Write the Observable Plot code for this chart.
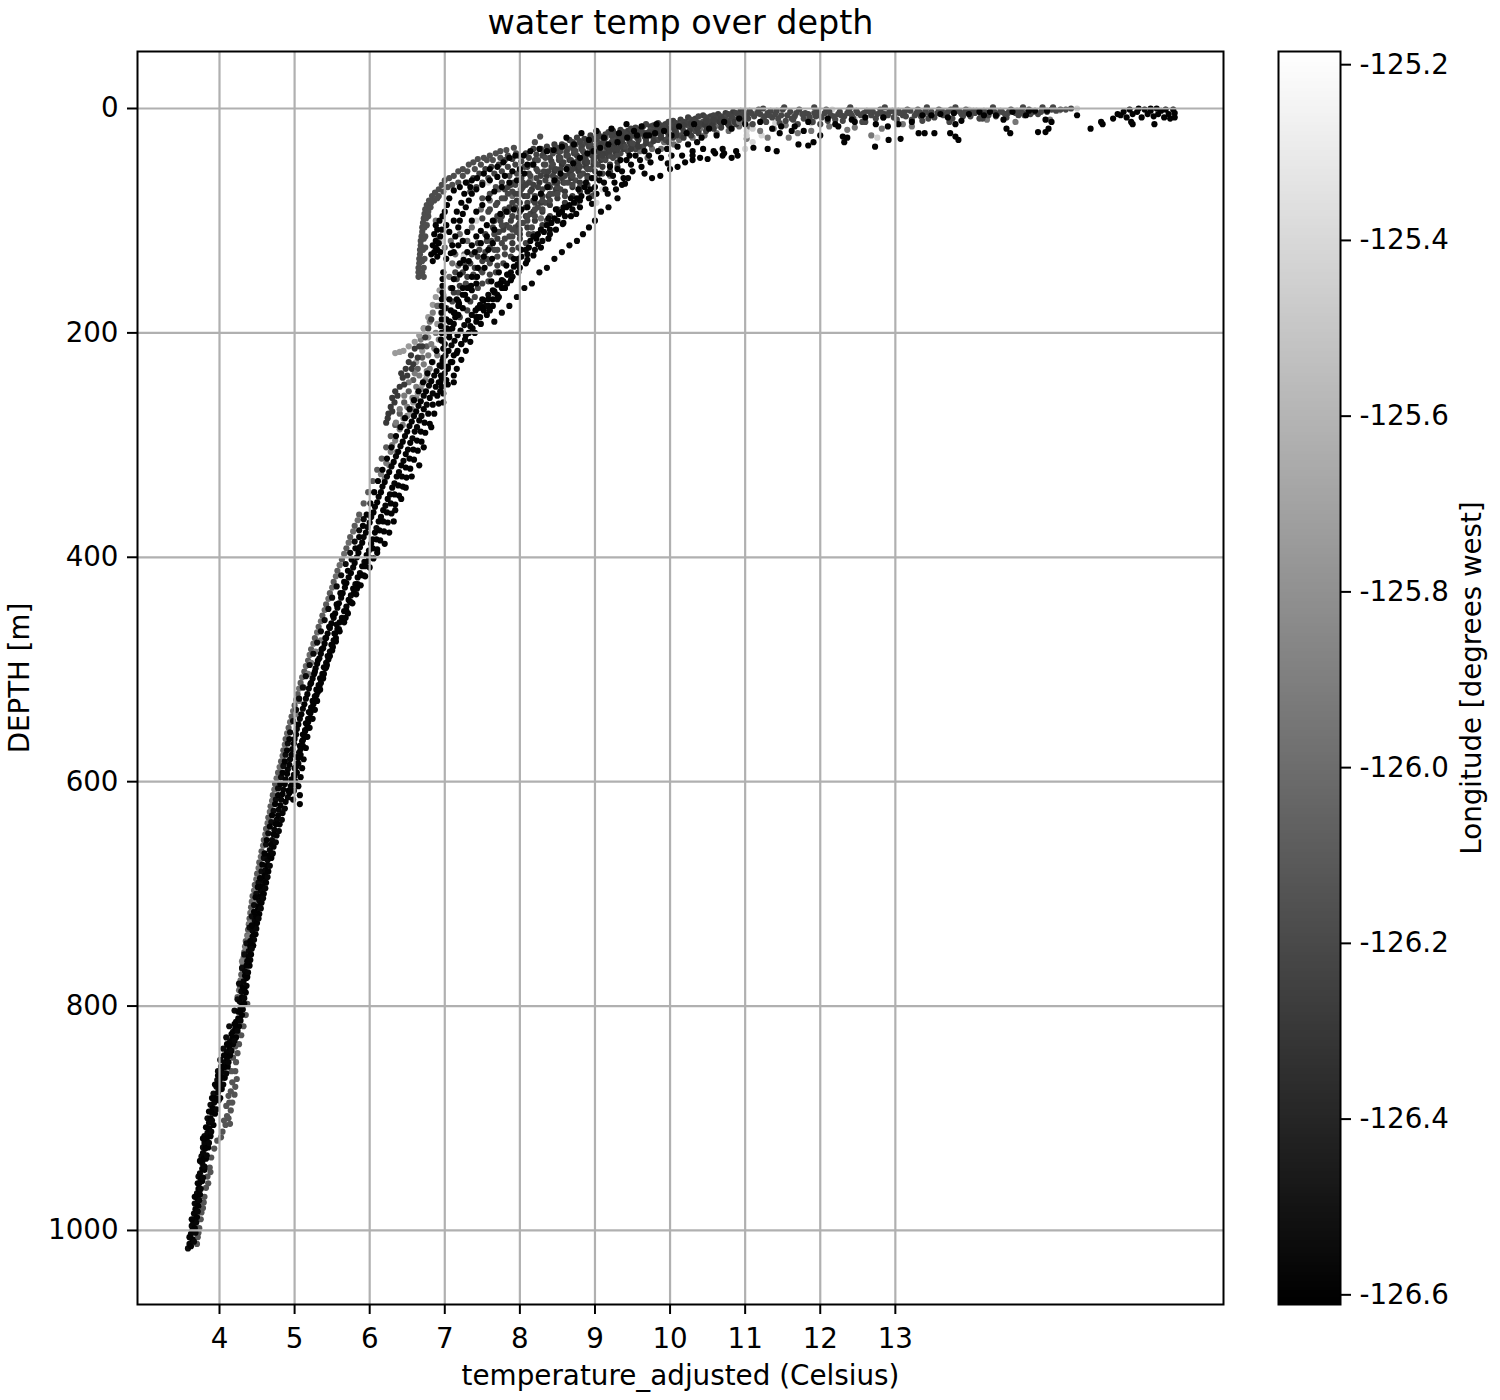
<!DOCTYPE html>
<html><head><meta charset="utf-8">
<script src="https://cdn.jsdelivr.net/npm/d3@7"></script>
<script src="https://cdn.jsdelivr.net/npm/@observablehq/plot@0.6"></script>
<style>body{margin:0;background:#fff}#wrap{position:relative;width:1500px;height:1400px}#wrap svg{position:absolute;left:0;top:0;background:transparent;overflow:visible}</style>
</head><body><div id="wrap"></div>
<script>
const titleText=["water temp over depth"];
const xLabel=["temperature_adjusted (Celsius)"];
const yLabel=["DEPTH [m]"];
const barLabel=["Longitude [degrees west]"];
const xTicks=[4,5,6,7,8,9,10,11,12,13];
const yTicks=[0,200,400,600,800,1000];
const barTicks=[-126.6,-126.4,-126.2,-126.0,-125.8,-125.6,-125.4,-125.2];
const lonRange=[-126.611,-125.185];

// each list: temperature, depth, temperature, depth ...
const deepGrayRight=[3.70,1012,3.71,1006,3.73,998,3.75,990,3.78,980,3.80,970,3.82,962,3.84,952,3.87,944,3.89,935,3.93,927,3.97,920,4.04,912,4.08,906,4.12,900,4.15,893,4.17,886,4.20,879,4.21,872,4.23,865,4.21,858,4.22,850,4.24,842,4.26,834,4.29,826,4.32,818,4.35,808,4.37,798,4.14,905,4.10,898,4.13,886,4.15,876,4.17,868,3.72,1002,3.76,984,3.79,975,3.85,958,3.88,948,4.02,917,4.06,902,4.09,889,4.12,880,4.16,858,4.18,846,4.21,836,4.24,824,4.27,812];
const deepGrayLeft=[4.24,792,4.27,782,4.29,772,4.31,762,4.33,752,4.35,742,4.38,732,4.40,722,4.42,712,4.44,702,4.47,692,4.50,682,4.53,672,4.56,662,4.59,652,4.62,642,4.65,632,4.68,622,4.71,612,4.74,602,4.78,592,4.82,582,4.85,572,4.88,562,4.92,552,4.96,542,5.00,532,5.04,522,5.08,512,5.13,502,5.18,492,5.22,482,5.27,472,5.32,462,5.37,452,5.42,442,5.47,432,5.52,422,5.57,412,5.63,402,5.69,392,5.74,382,5.80,372,5.86,362,5.92,352,5.98,342,6.04,332,6.10,322,6.16,312,6.22,302,6.28,292,6.34,282,6.40,272,6.46,262,6.52,252,6.58,242,6.64,232,6.70,222,6.76,212];
const deepGrayLeftB=[4.26,786,4.28,777,4.30,767,4.32,757,4.34,747,4.37,737,4.39,727,4.41,717,4.43,707,4.46,697,4.49,687,4.52,677,4.55,667,4.58,657,4.61,647,4.64,637,4.67,627,4.70,617,4.73,607,4.76,597,4.80,587,4.84,577,4.87,567,4.90,557,4.94,547,4.98,537,5.02,527,5.06,517,5.10,507,5.15,497,5.20,487,5.25,477,5.30,467,5.35,457,5.40,447,5.45,437,5.50,427,5.55,417,5.60,407,5.66,397,5.72,387,5.78,377,5.84,367];
const midGray=[4.30,760,4.35,748,4.38,738,4.41,726,4.45,716,4.48,706,4.50,696,4.54,686,5.02,540,5.06,528,5.12,516,5.18,504,5.22,494,5.28,484,5.35,474,6.15,326,6.22,316,6.28,306,6.34,296,6.40,286,6.45,276,6.50,266,6.57,258,6.62,248,6.66,238,6.72,228,6.78,220,6.82,210,6.88,200,6.72,196,6.80,190,6.84,182,6.92,176,6.60,236,6.52,244,6.46,256,6.40,268,6.35,280,6.68,206,6.76,234,6.84,226,6.86,214,6.92,206,6.44,282,6.50,274,6.56,268,6.62,258,6.68,250,6.74,242,6.80,232,6.90,220,6.30,300,6.36,306,6.26,318,6.20,330];
const lightChain=[6.34,218,6.40,217,6.45,216,6.52,212,6.60,208,6.66,202,6.72,196,6.78,186,6.84,175,6.88,168,6.93,162,6.62,226,6.70,216,6.78,204,6.90,192,6.95,182,6.58,262,6.64,254,6.70,246,6.76,238,6.54,272];
const leftDarkChain=[6.22,280,6.25,272,6.28,266,6.33,262,6.37,256,6.40,248,6.44,240,6.48,232,6.52,226,6.55,220,6.60,214,6.24,276,6.30,258,6.46,246,6.50,238,6.58,228,6.64,222,6.70,212,6.74,204,6.78,196,6.82,188,6.30,270,6.34,252,6.42,236,6.56,232,6.66,212];
const deepBlackA=[3.60,1012,3.62,1003,3.65,994,3.66,985,3.69,976,3.70,967,3.73,958,3.74,949,3.77,940,3.78,931,3.80,922,3.84,913,3.86,904,3.90,895,3.93,886,3.98,877,4.00,868,4.03,859,4.07,850,4.10,841,4.14,832,4.18,823,4.22,814,4.25,805,4.27,796,4.29,787,4.32,778,4.34,769,4.37,760,4.39,751,4.42,742,4.44,733,4.47,724,4.50,715,4.53,706,4.55,697,4.58,688,4.61,679,4.64,670,4.67,661,4.70,652,4.73,643,4.76,634,4.79,625,4.82,616,4.85,607,4.88,598,4.91,589,4.94,580,4.97,571,5.00,562,5.03,553,5.07,544,5.11,535,5.15,526,5.19,517,5.24,508,5.28,499,5.33,490,5.38,481,5.42,472,5.47,463,5.52,454,5.57,445,5.62,436,5.67,427,5.72,418,5.78,409,5.83,400,5.87,391,5.92,382,5.97,373,6.02,364,6.07,355,6.12,346,6.17,337,6.23,328,6.29,319,6.35,310,6.41,301,6.47,292,6.53,283,6.59,274,6.65,265,6.72,256,6.79,247,6.86,238,6.93,229,7.01,220,7.09,211,7.17,202,7.26,193,7.36,184,7.47,175,7.58,166,7.70,157,7.83,148,7.97,139,8.10,130,8.24,121,8.40,112,8.57,103,8.75,94,8.96,85,9.17,76,9.40,67,9.66,58,9.97,49,10.3,42,10.7,36];
const deepBlackB=[3.64,1008,3.67,998,3.70,988,3.72,978,3.74,968,3.77,956,3.80,946,3.82,936,3.85,926,3.88,916,3.92,906,3.94,896,3.99,884,4.03,874,4.07,864,4.11,854,4.14,844,4.18,834,4.22,828,4.26,818,4.30,808,4.33,798,4.35,788,4.37,774,4.40,764,4.42,754,4.45,746,4.48,736,4.50,726,4.53,718,4.56,708,4.59,700,4.62,690,4.65,680,4.69,668,4.72,658,4.76,648,4.80,638,4.84,628,4.88,618,4.92,608,4.96,598,5.00,588,5.03,578,5.07,568,5.11,558,5.15,548,5.19,538,5.24,528,5.29,518,5.34,508,5.39,498,5.44,488,5.49,478,5.54,468,5.60,458,5.66,448,5.72,438,5.78,428,5.84,418,5.90,408,5.96,398,6.02,388,6.07,378,6.12,368,6.18,358,6.24,348,6.30,338,6.36,328,6.42,318,6.48,308,6.54,298,6.60,288,6.66,278,6.72,268,6.80,258,6.88,248,6.96,240,7.04,230,7.12,220,7.22,210,7.32,200,7.42,190,7.52,180,7.64,170,7.76,160,7.90,150];
const deepBlackC=[3.58,1016,3.61,1006,3.63,996,3.67,976,3.72,952,3.76,934,3.78,926,3.80,916,3.84,900,3.88,888,3.92,878,3.96,872,3.97,866,3.98,858,4.01,848,4.05,838,4.09,828,4.13,818,4.20,804,4.24,794,4.26,780,4.30,766,4.33,754,4.36,744,4.40,730,4.43,720,4.46,710,4.49,700,4.52,690,4.56,680,4.59,668,4.62,656,4.65,646,4.69,636,4.72,626,4.75,616,4.78,606,4.82,596,4.85,586,4.88,576,4.91,566,4.94,556,4.98,546,5.02,536,5.06,526,5.11,516,5.15,506,5.20,496,5.25,486,5.30,476,5.35,466,5.40,456,5.45,446,5.50,436,5.56,426,5.62,416,5.68,406,5.74,396,5.80,386,5.86,376,5.92,366];
const deepBlackD=[3.62,1014,3.64,1000,3.66,990,3.68,981,3.71,972,3.72,963,3.75,954,3.77,945,3.79,936,3.81,927,3.83,918,3.86,909,3.88,900,3.91,891,3.95,882,4.00,873,4.03,864,4.06,855,4.10,846,4.13,837,4.17,829,4.21,820,4.25,811,4.28,802,4.30,792,4.31,783,4.34,773,4.36,764,4.39,756,4.41,747,4.44,738,4.46,729,4.49,720,4.52,711,4.55,702,4.57,693,4.60,684,4.63,675,4.66,666,4.69,656,4.72,647,4.75,638,4.78,630,4.81,621,4.84,611,4.87,602,4.90,593,4.93,585,4.96,576,4.99,566,5.02,558,5.05,549,5.09,540,5.13,531,5.17,522,5.21,513,5.26,504,5.30,495,5.35,486,5.40,477,5.44,468,5.49,459,5.54,450,5.59,441,5.64,432,5.69,423,5.75,414,5.80,405,5.85,396,5.90,387,5.95,378,6.00,369,6.05,360,6.10,351,6.15,342,6.20,333,6.26,324,6.32,315,6.38,306,6.44,297,6.50,288,6.56,279,6.62,270,6.68,261,6.75,252,6.82,243,6.89,234,6.97,225,7.05,216,7.13,207,7.21,198,7.31,189,7.41,180,7.52,171,7.64,162,7.76,153];
const deepBlackE=[3.66,1010,3.68,1002,3.69,993,3.71,983,3.73,973,3.75,963,3.78,953,3.80,943,3.83,933,3.86,922,3.89,912,3.90,902,3.96,892,4.01,882,4.05,870,4.09,860,4.12,850,4.16,840,4.20,831,4.24,822,4.28,813,4.31,803,4.33,793,4.36,782,4.38,770,4.41,759,4.43,749,4.46,741,4.49,731,4.52,722,4.55,713,4.58,704,4.61,695,4.64,685,4.67,675,4.71,664,4.75,654,4.79,644,4.83,634,4.87,624,4.91,614,4.95,604,4.99,594,5.03,584,5.06,574,5.10,564,5.14,554,5.18,544,5.22,534,5.27,524,5.32,514,5.37,504,5.42,494,5.47,484,5.52,474,5.57,464,5.63,454,5.69,444,5.75,434,5.81,424,5.87,414,5.93,404,5.99,394,6.04,384,6.09,374,6.15,364,6.21,354,6.27,344,6.33,334,6.39,324,6.45,314,6.51,304,6.57,294,6.63,284,6.69,274,6.76,264,6.84,254,6.92,244,7.00,236,7.08,226,7.17,216,7.27,206,7.37,196,7.47,186,7.58,176,7.70,166,7.83,156];
const deepBlackF=[5.22,512,5.27,502,5.31,492,5.36,482,5.41,472,5.46,462,5.51,452,5.56,442,5.61,432,5.66,422,5.71,412,5.76,402,5.81,392,5.86,382,5.91,372,5.96,362,6.01,352,6.06,342,6.11,332,6.17,322,6.23,312,6.29,302,6.35,292,6.41,284,6.47,276,6.53,268,6.59,260,6.65,252,6.71,244,6.77,236,6.83,226,6.89,216,6.95,206,7.01,198,7.07,190,7.13,182,7.19,174,7.27,166,7.35,158,7.43,150,7.53,142,7.63,134];
const deepBlackG=[4.98,616,4.99,608,5.01,600,5.03,592,5.05,584,5.08,576,5.11,568,5.14,560,5.17,552,5.20,544,5.23,536,5.27,528,5.31,520,5.35,512,5.39,504,5.43,496,5.47,488,5.51,480,5.55,472,5.59,464,5.64,456,5.69,448,5.74,440,5.79,432,5.84,424,5.89,416,5.94,408,5.99,400,6.04,392,6.09,384,6.13,376,6.18,368,6.23,360,6.28,352,6.33,344,6.38,336,6.43,328,6.48,320,6.53,312,6.58,304,6.63,296,6.68,288,6.73,280,6.78,272,6.84,264,6.90,256,6.96,248,7.02,242];
const deepBlackH=[4.93,610,4.97,602,5.00,595,5.02,587,5.05,579,5.08,571,5.11,563,5.14,555,5.18,547,5.21,539,5.25,531,5.29,523,5.33,515,5.37,507,5.41,499,5.45,491,5.50,483,5.55,475,5.60,466,5.66,458,5.71,450,5.77,441,5.82,433,5.88,425,5.94,417,6.00,409,6.05,401,6.10,393,6.14,385,6.19,377,6.24,369,6.29,361,6.34,353,6.39,345,6.44,337,6.49,329,6.54,321,6.59,313,6.64,305,6.69,297,6.74,289,6.80,281,6.86,272,6.92,263,6.98,254,7.04,246];
const deepBlackJ=[3.60,1006,3.63,990,3.67,970,3.71,958,3.74,938,3.78,918,3.82,908,3.86,894,3.90,882,3.94,870,3.98,862,4.02,854,4.06,844,4.10,834,4.16,825,4.20,816,4.27,805,4.30,800,4.33,785,4.36,775,4.38,760,4.41,742,4.43,728,4.46,716,4.48,703,4.51,694,4.54,686,4.57,674,4.60,664,4.63,652,4.67,640,4.70,630,4.74,620,4.78,612,4.81,602,4.84,592,4.87,582,4.90,572,4.93,562];
const rightChain=[5.07,620,5.07,612,5.05,604,5.08,596,5.10,588,5.12,580,5.15,570,5.17,560,5.20,552,5.24,544,5.27,536,5.30,528,5.34,518,5.38,508,5.42,498,5.46,488,5.50,478,5.53,468,5.56,460,5.68,454,5.75,440,5.83,428,5.92,416,5.96,404,6.10,396,6.20,388,6.26,378,6.32,368,6.34,358,6.42,348,6.48,338,6.56,328,6.66,318,6.72,302,6.82,284,6.98,262,7.12,244];
const upperHook=[6.65,150,6.65,146,6.65,142,6.66,138,6.66,134,6.67,130,6.67,126,6.68,122,6.68,118,6.69,114,6.70,110,6.70,106,6.71,102,6.72,98,6.73,94,6.74,90,6.76,86,6.79,82,6.83,78,6.87,75,6.92,72,6.96,68,7.00,64,7.06,62,7.12,60,7.18,56,7.24,54,7.32,50,7.38,48,7.44,45,7.52,44,7.60,42,7.68,40,7.74,38,7.82,37,7.92,35,8.27,25,8.20,30,6.72,150,6.72,142,6.73,134,6.74,124,6.74,114,6.76,104,6.78,96,6.81,88,6.86,82,6.92,78,6.98,74,7.04,70,7.10,68,7.18,66,6.70,146,6.70,136,6.71,126,6.72,116,6.73,106,6.75,98,6.78,92,6.82,84,6.90,80,7.24,60,7.30,56,7.40,54,7.48,50,7.56,46,7.64,46,7.74,44,7.84,42,7.95,40];
const darkA=[7.30,66,7.38,62,7.46,58,7.54,54,7.62,52,7.72,50,7.80,46,7.90,45,7.98,42,8.08,40,8.18,36,8.28,36,8.36,34,8.46,32,8.56,32,8.66,28,8.76,26,8.86,27,8.94,24,9.04,22,9.14,23,9.24,20,9.34,19,9.44,20,9.54,17,9.64,16,9.74,16,9.84,13,9.94,14,10.04,11,10.14,10,10.24,8,10.34,9,10.44,6,10.54,7,10.64,5,10.74,4,10.84,3,10.94,2];
const darkB=[7.50,80,7.60,76,7.68,70,7.76,66,7.86,60,7.96,58,8.06,52,8.16,50,8.24,46,8.34,44,8.44,40,8.54,38,8.64,36,8.74,32,8.84,32,8.94,28,9.04,30,9.14,26,9.24,26,9.34,24,9.44,26,9.54,22,9.64,22,9.74,19,9.84,20,9.94,18,10.04,17,10.14,14,10.24,15,10.34,12,10.44,12,10.54,10,10.64,11,10.74,8,10.84,9,10.94,6];
const darkC=[7.08,160,7.16,152,7.24,146,7.34,138,7.44,132,7.54,128,7.62,118,7.72,110,7.82,104,7.90,96,8.00,92,8.10,84,8.20,78,8.30,72,8.38,68,8.48,62,8.58,60,8.68,56,8.78,50,8.88,46,8.98,46,9.08,40,9.18,38,9.28,36,9.38,32,9.48,33,9.58,28,9.68,28,9.78,26,9.88,24,9.98,25,10.08,21,10.18,20,10.28,18,10.38,16,10.48,16,10.58,13,10.68,14,10.78,11,10.88,10,10.98,8];
const darkD=[7.02,178,7.10,172,7.18,164,7.28,156,7.38,148,7.48,144,7.56,134,7.66,126,7.76,120,7.86,114,7.94,106,8.04,102,8.14,94,8.24,88,8.34,84,8.44,76,8.54,72,8.64,66,8.74,64,8.84,58,8.94,54,9.04,50,9.14,46,9.24,44,9.34,40,9.44,38,9.54,36,9.64,34,9.74,32,9.84,28,9.94,28,10.04,26,10.14,24,10.24,22,10.34,20];
const darkE=[7.66,100,7.76,96,7.86,88,7.96,82,8.06,78,8.16,72,8.26,66,8.36,60,8.46,56,8.56,50,8.66,46,8.76,42,8.86,40,8.96,36,9.06,34,9.16,32,9.26,30,9.36,28,9.46,28,9.56,26,8.30,92,8.40,86,8.50,80,8.60,74,8.70,70,8.80,66,8.90,60,9.00,56,9.10,52,9.20,50,9.30,48,7.90,120,8.00,112,8.10,106,8.20,100,8.30,104,8.40,96,8.50,90,8.60,84,8.70,78,8.80,74,8.90,68];
const darkF=[8.02,72,8.12,66,8.22,62,8.32,56,8.42,52,8.52,46,8.62,42,8.72,40,8.82,36,8.92,34,9.02,32,9.12,30,9.22,30,8.00,56,8.10,52,8.20,46,8.30,42,8.40,44,8.50,38,8.60,34,8.70,34,8.80,30,8.90,28,7.44,120,7.54,112,7.64,106,7.74,100,7.84,92,7.94,88,7.50,98,7.60,90,7.70,84,7.80,80,7.90,74,7.30,180,7.40,168,7.50,156,7.60,148,7.70,140,7.80,130,7.90,126,8.00,116,8.12,112,7.20,186,7.34,172,7.44,160,7.58,154,7.68,146,7.78,138,7.88,132,7.98,124,8.08,120,8.18,112];
const darkG=[7.34,74,7.42,70,7.50,66,7.58,62,7.66,58,7.76,56,7.84,52,7.94,50,8.02,47,8.12,44,8.22,41,8.32,39,8.40,37,8.50,35,8.60,33,8.70,30,8.80,29,8.90,30,8.98,27,9.08,25,9.18,21,9.28,23,9.38,21,9.48,18,9.58,19,9.68,14,9.78,15,9.88,15,9.98,12,10.08,13,10.18,12,10.28,10,10.38,7,10.48,8,10.58,6,10.68,7,10.78,5,10.88,4,10.98,3,7.92,66,8.02,62,8.12,58,8.22,54,8.32,50,8.42,47,8.52,43,8.62,39,8.72,37,8.82,34,8.92,31,9.02,27,9.12,28,9.22,24,9.32,26,9.42,23,9.52,24,9.62,20,9.72,21,9.82,17,9.92,16,10.02,15,10.12,16,10.22,13,10.32,11,10.42,14,10.52,12,10.62,9,10.72,10,10.82,7,10.92,7];
const darkH=[7.12,164,7.20,158,7.30,150,7.40,142,7.50,136,7.60,124,7.70,116,7.78,108,7.88,100,7.98,97,8.08,88,8.18,82,8.28,76,8.36,70,8.46,66,8.56,62,8.66,58,8.76,53,8.86,48,8.96,42,9.06,43,9.16,35,9.26,33,9.36,30,9.46,30,9.56,32,9.66,25,9.76,23,9.86,22,9.96,21,10.06,19,10.16,17,10.26,20,10.36,18,10.46,14,10.56,15,10.66,12,10.76,13,10.86,12,10.96,11,7.98,104,8.08,96,8.18,92,8.28,84,8.38,78,8.48,72,8.58,66,8.68,62,8.78,56,8.88,52,8.98,50,9.08,46,9.18,42,9.28,40,9.38,36,9.48,36,9.58,34,9.68,31,9.78,29,9.88,26,9.98,30,10.08,24,10.18,26,10.28,24,10.38,22,10.48,20,10.58,18,10.68,17,10.78,15,10.88,14];
const darkI=[7.58,92,7.68,86,7.76,80,7.84,76,7.94,68,8.04,66,8.14,60,8.24,56,8.34,50,8.44,50,8.54,44,8.64,42,8.74,38,8.84,38,8.94,32,7.70,126,7.80,116,7.90,108,8.00,102,8.10,96,8.20,90,8.30,82,8.40,76,8.50,70,8.60,66,8.70,60,8.80,60,8.90,54,9.00,48,9.10,44,9.20,42,9.30,42,9.40,34,9.50,31,7.40,150,7.50,146,7.60,138,7.70,132,7.80,124,7.90,114,8.00,108,8.10,100,8.20,96,8.30,90,8.40,82,8.50,76,8.60,78,8.70,68,8.80,70,8.90,62,9.00,62,9.10,58,9.20,56,9.30,52,7.14,146,7.26,138,7.36,130,7.46,126,7.56,118,7.66,112,7.76,104,7.86,106,7.96,110,8.16,106,8.36,100,8.56,92,8.76,84,8.96,78];
const darkJ=[7.84,70,7.94,76,8.04,70,8.14,74,8.24,70,8.34,64,8.44,60,8.54,54,8.64,52,8.74,48,8.84,44,8.94,40,9.04,38,9.14,40,9.24,36,9.34,34,8.00,84,8.10,78,8.20,84,8.30,78,8.40,70,8.50,66,8.60,60,8.70,54,8.80,52,8.90,48,9.00,44,9.10,42,9.20,38,9.30,36,7.70,96,7.80,90,7.90,84,8.00,76,7.80,72,7.88,68,7.98,76,8.08,68,8.18,68,8.28,60,8.38,56,8.48,54,8.58,48,8.68,46,8.78,46,8.88,42,8.98,36,9.08,32,9.18,34,9.28,30,9.38,26,9.48,24,9.58,24,9.68,22,9.78,21,9.88,19,9.98,18,10.08,16,10.18,15,10.28,14,10.38,13,10.48,11,10.58,10,10.68,9];
const midGrayUpper=[6.88,100,6.92,116,7.00,124,7.08,118,7.20,112,7.36,106,7.48,90,7.60,82,7.72,72,7.26,130,7.18,140,7.30,118,8.94,54,9.02,42,9.10,36,9.30,28,9.50,24,9.80,18,10.00,20,10.20,12,10.40,18,10.60,16,10.80,14,9.70,44,9.88,36,10.05,32,8.70,60,9.00,76,9.20,60,7.90,78,8.14,64,8.28,98,9.60,38,9.76,36,9.92,30,10.12,28,10.30,26,10.46,24,10.62,22,10.78,20,10.92,16,7.14,130,7.06,150,6.98,166,6.90,176,7.10,138];
const paleUpper=[6.97,118,7.25,132,7.42,100,7.58,66,7.96,92,8.00,72,7.70,110,8.16,82,8.42,64,9.02,84,9.10,72,9.42,46,9.84,26,10.0,18,10.42,10,10.66,12,10.94,8,11.02,14,11.00,36,11.22,24,11.02,20,11.10,30];
const blackColumn=[6.98,146,6.97,152,6.97,158,6.97,164,6.96,170,6.96,176,6.96,182,6.96,188,6.95,194,6.96,200,6.96,207,6.98,214,6.98,222,6.96,230,6.95,238,6.94,244,6.94,252,6.98,168,7.00,178,7.02,188,7.03,196,7.06,204,7.10,196,7.14,186,7.18,176,7.24,166,7.10,160,7.16,170,7.08,180];
const blackHookA=[6.82,130,6.86,128,6.90,126,6.84,122,6.88,118,6.92,120,6.86,112,6.90,108,6.94,114,6.88,104,6.93,100,6.97,96,7.00,92,7.03,86,7.06,80,7.12,73,7.20,70,7.28,66,7.36,64,7.43,62,7.52,58,7.60,54,7.70,52,7.78,48,7.86,44,7.94,42,8.05,42,8.14,38,8.26,36,8.36,38,8.45,37,8.56,34];
const blackHookB=[7.02,134,7.08,129,7.10,122,7.14,114,7.18,106,7.20,100,7.24,94,7.28,88,7.32,82,7.36,76,7.42,72,7.50,68,7.60,64,7.70,61,7.80,60,7.90,56,8.00,54,8.10,50,8.18,50];
const blackHookC=[6.84,136,6.90,132,6.88,124,6.94,128,6.96,108,7.02,104,7.06,110,7.12,100,7.16,92,7.22,84,7.26,76,7.34,70,7.12,128,7.18,122,7.24,118,7.30,110,7.36,100,7.42,92,7.50,86,7.58,80,7.66,74,7.76,70,7.86,66,7.96,64,8.06,58,7.32,136,7.40,128,7.48,120,7.56,114,7.66,108];
const blackChainC=[7.20,138,7.25,135,7.30,128,7.36,122,7.42,114,7.48,109,7.56,104,7.64,100,7.74,94,7.82,92,7.92,90,8.02,90,8.10,88,8.20,80,8.28,76,8.37,70,8.46,64,8.54,58,8.62,54,8.71,49,8.80,44,8.90,40,8.98,38,9.07,35,9.18,32,9.30,30,9.43,26,9.56,24,9.68,24,9.80,22];
const blackChainD=[7.60,180,7.70,170,7.80,160,7.90,150,8.00,142,8.10,135,8.20,126,8.30,118,8.40,108,8.50,100,8.60,96,8.70,90,8.80,82,8.90,74,9.00,70,9.12,66,9.24,60,9.36,56,9.48,50,9.60,46,9.72,42,9.84,38,9.96,36,10.10,34,10.24,32,10.36,30,7.44,186,7.54,176,7.66,164,7.78,154,7.88,146,7.98,134,8.08,126,8.18,114,8.28,108,8.38,98,8.48,90,8.58,88,8.68,80,8.78,72,8.88,66,9.28,72,9.36,68,9.44,62,9.30,80,9.18,88,9.08,92,9.00,100,8.92,106,8.84,112,8.76,118,8.66,122,8.56,128,8.46,134,8.36,142,8.26,146,8.16,156,8.06,160,7.96,168,7.86,176,7.76,182,7.66,190];
const blackChainE=[8.62,26,8.72,32,8.82,22,8.92,28,9.02,20,9.12,26,9.22,18,9.32,22,9.42,14,9.52,20,9.62,16,9.72,24,9.82,14,9.92,20,10.02,24,10.12,16,10.22,22,10.32,14,10.42,26,10.52,18,10.62,24,10.72,12,10.82,18,10.92,9,11.00,14,10.90,42,10.82,44,10.70,42,10.60,40,10.50,45,10.40,44,10.30,46,10.20,48,10.10,52,10.00,54,9.87,60,9.76,62];
const blackLowerA=[7.12,238,7.16,232,7.22,224,7.28,216,7.34,208,7.40,200,7.48,192,7.56,184,7.64,176,7.72,168,7.80,160,7.88,153,7.98,146,8.08,138,8.18,131,8.28,124,8.38,116,8.48,108,8.58,102,8.68,96,8.80,88,8.92,80,9.02,76,9.14,72,9.26,66,9.38,62,9.50,56,9.62,52,9.74,48,9.88,44,10.02,42,10.16,42,10.30,38,10.44,36,10.58,38,10.72,40,10.88,38];
const blackLowerB=[7.04,232,7.10,226,7.16,218,7.22,210,7.28,202,7.34,194,7.42,186,7.50,178,7.58,170,7.66,163,7.74,156,7.84,148,7.92,141,8.02,132,8.12,124,8.22,116,8.32,110,8.42,102,8.52,94,8.62,88,8.72,84,8.82,78,8.94,72,9.06,64,9.18,58,9.30,54,9.42,46,9.54,42,9.66,38];
const blackLowerC=[7.44,178,7.50,170,7.62,154,7.72,146,7.82,140,7.92,134,8.02,126,8.14,118,8.24,112,8.36,104,8.46,98,8.56,92,8.66,86,8.76,80,8.86,70,8.96,62,9.06,58,9.20,52,9.34,46,9.46,42];
const blackFillI=[7.00,210,7.06,200,7.12,192,7.18,184,7.24,178,7.30,170,7.36,162,7.42,156,7.06,190,7.12,182,7.18,172,7.24,160,7.30,160,7.36,150,7.44,142,7.52,132,7.58,126,7.64,120,7.06,170,7.12,152,7.20,148,7.28,142];
const surfaceDark=[10.98,4,11.06,2,11.12,7,11.18,1,11.24,10,11.30,4,11.36,8,11.42,2,11.48,6,11.54,11,11.60,3,11.66,7,11.72,1,11.78,9,11.84,5,11.90,12,11.96,3,12.02,8,12.08,1,12.14,6,12.20,10,12.26,3,12.32,7,12.38,1,12.44,9,12.50,4,12.56,12,12.62,2,12.68,6,12.74,9,12.80,1,12.86,5,12.92,3,12.98,8,13.04,2,13.10,6,13.16,1,13.22,10,13.28,4,13.34,7,13.40,2,13.46,5,13.52,8,13.58,1,13.64,6,13.70,3,13.76,9,13.82,2,13.88,5,13.94,1,14.00,7,14.06,4,14.12,9,14.18,2,14.24,6,14.30,1,14.36,5,14.42,3,14.48,8,14.54,1,14.60,4,14.66,2,14.72,6,14.78,1,14.84,3,14.90,5,14.96,1,15.02,3,15.08,1,15.14,2,15.20,1,15.27,1,15.34,0,11.04,9,11.20,5,11.34,2,11.50,1,11.64,10,11.80,4,11.94,7,12.10,11,12.24,5,12.40,4,12.54,6,12.70,3,12.84,8,13.00,4,13.14,7,13.30,1,13.44,9,13.60,3,13.74,1,13.90,7,14.04,2,14.20,4,14.34,7,14.50,4,14.64,6,14.80,5,14.94,3,11.10,14,11.28,12,11.46,13,11.70,14,12.00,14,12.30,11,12.60,12,13.02,10,13.36,11,13.72,12,14.16,9,11.24,0,11.52,-1,11.92,-1,12.40,-1,12.86,-1,13.42,-1,13.80,-1,14.30,-1,14.70,-1,14.96,-1,15.10,-1,11.02,6,11.08,4,11.16,4,11.26,7,11.32,6,11.40,5,11.44,9,11.56,6,11.62,9,11.68,4,11.76,5,11.86,8,11.92,4,11.98,6,12.06,4,12.12,3,12.18,7,12.28,6,12.36,4,12.42,6,12.48,2,12.58,4,12.66,3,12.76,5,12.82,4,12.90,6,12.96,2,13.06,4,13.12,3,13.20,2,13.26,6,13.32,3,13.38,5,13.48,3,13.56,4,13.62,2,13.68,5,13.78,4,13.86,3,13.92,4,13.98,3,14.08,2,14.14,5,14.22,4,14.32,3,14.40,2,14.46,5,14.52,2,14.62,2,14.70,4,14.76,3];
const surfaceGray=[10.92,12,11.06,16,11.20,20,11.38,18,11.54,15,11.70,22,11.88,20,12.12,16,12.36,19,12.46,17,12.68,24,12.82,18,13.10,14,13.22,16,14.22,10,15.06,10,14.60,12,11.02,27,11.30,26,11.58,26];
const surfacePale=[11.02,24,11.10,18,12.76,26,11.88,13,12.46,8,13.02,5,13.46,3,14.22,2,15.42,0,15.18,2,13.98,1,11.16,2,12.16,1,11.40,13];
const surfaceBlack=[11.11,35,11.30,36,11.42,38,11.71,32,11.91,30,11.84,33,12.32,30,12.36,26,12.30,25,12.73,34,12.91,28,13.07,27,13.84,28,13.52,22,13.31,22,13.39,22,13.73,22,13.80,25,14.53,22,14.48,18,14.90,21,15.00,21,15.60,18,15.04,18,15.08,12,15.76,14,15.74,12,15.90,9,16.16,14,16.14,12,16.45,14,11.20,12,11.36,18,11.46,22,11.48,16,11.62,20,11.66,16,11.78,20,11.84,12,12.00,24,12.10,9,12.20,14,12.24,16,12.42,10,12.46,12,12.60,8,12.74,14,12.84,8,12.90,16,13.04,14,13.22,12,13.36,6,13.48,6,13.60,5,13.70,8,13.78,4,13.80,14,13.88,11,13.98,5,14.12,3,14.18,6,14.26,3,14.34,6,14.44,10,14.56,3,14.74,6,14.78,2,14.86,2,15.02,2,15.00,10,15.42,6,16.00,6,16.04,3,16.08,8,16.12,1,16.16,5,16.22,3,16.28,8,16.32,1,16.36,5,16.40,2,16.44,7,16.48,0,16.50,5,16.54,2,16.58,8,16.60,1,16.64,5,16.66,9,16.70,1,16.72,4,16.72,8,16.24,0,16.40,0,15.96,5];

const series=[
 [deepGrayRight,-126.14],[deepGrayLeft,-126.1],[deepGrayLeftB,-126.0],[midGray,-125.92],[lightChain,-125.75],[leftDarkChain,-126.3],
 [upperHook,-126.18],[midGrayUpper,-126.0],[paleUpper,-125.42],[darkC,-126.25],[darkD,-126.22],[darkE,-126.3],[darkF,-126.24],[darkA,-126.27],[darkB,-126.2],[darkG,-126.24],[darkH,-126.28],[darkI,-126.22],[darkJ,-126.26],
 [surfaceGray,-125.95],[surfacePale,-125.45],[surfaceDark,-126.22],
 [deepBlackC,-126.55],[deepBlackA,-126.58],[deepBlackB,-126.6],[deepBlackD,-126.6],[deepBlackE,-126.58],[deepBlackF,-126.6],[deepBlackG,-126.6],[deepBlackH,-126.6],[deepBlackJ,-126.6],[rightChain,-126.6],[blackColumn,-126.6],[blackHookA,-126.6],[blackHookB,-126.6],[blackHookC,-126.6],[blackChainC,-126.6],[blackChainD,-126.58],[blackChainE,-126.6],[blackLowerA,-126.6],[blackLowerB,-126.6],[blackLowerC,-126.6],[blackFillI,-126.6],[surfaceBlack,-126.6]
];
const points=series.flatMap(([list,lon])=>d3.range(0,list.length,2).map(i=>({temp:list[i],depth:list[i+1],lon})));

const fontFamily="'DejaVu Sans'";
const colorScale={type:"linear",domain:lonRange,range:["#000000","#ffffff"]};
const main=Plot.plot({
  width:1500,height:1400,marginLeft:137,marginRight:277,marginTop:51,marginBottom:96,
  style:{fontFamily,background:"transparent",color:"#000"},
  x:{domain:[2.908,17.37],label:null},
  y:{domain:[1066,-50.8],label:null},
  color:colorScale,
  marks:[
    Plot.dot(points,{x:"temp",y:"depth",fill:"lon",r:3.1,stroke:"none"}),
    Plot.gridX(xTicks,{stroke:"#b0b0b0",strokeOpacity:1,strokeWidth:2.2}),
    Plot.gridY(yTicks,{stroke:"#b0b0b0",strokeOpacity:1,strokeWidth:2.2}),
    Plot.frame({stroke:"#000",strokeWidth:2,fill:"none"}),
    Plot.axisX({ticks:xTicks,anchor:"bottom",tickSize:10,tickPadding:14,fontSize:27.7,label:null,tickFormat:d=>String(d),strokeWidth:2}),
    Plot.axisY({ticks:yTicks,anchor:"left",tickSize:10,tickPadding:9,fontSize:27.7,label:null,tickFormat:d=>String(d),strokeWidth:2}),
    Plot.text(titleText,{text:d=>d,frameAnchor:"top",dy:-41,fontSize:33.4}),
    Plot.text(xLabel,{text:d=>d,frameAnchor:"bottom",dy:80,fontSize:27.8}),
    Plot.text(yLabel,{text:d=>d,frameAnchor:"left",textAnchor:"middle",dx:-117,rotate:-90,fontSize:27.7})
  ]
});
const bar=Plot.plot({
  width:1500,height:1400,marginLeft:1278,marginRight:160,marginTop:51,marginBottom:96,
  style:{fontFamily,background:"transparent",color:"#000"},
  x:{domain:[0,1],axis:null},
  y:{domain:lonRange,label:null,axis:null},
  color:colorScale,
  marks:[
    Plot.raster({x1:0,x2:1,y1:lonRange[0],y2:lonRange[1],width:1,height:400,fill:(x,y)=>y,imageRendering:"auto"}),
    Plot.frame({stroke:"#000",strokeWidth:2,fill:"none"}),
    Plot.axisY({ticks:barTicks,anchor:"right",tickSize:10,tickPadding:9,fontSize:27.7,label:null,tickFormat:d=>d.toFixed(1),strokeWidth:2}),
    Plot.text(barLabel,{text:d=>d,frameAnchor:"right",textAnchor:"middle",dx:132,rotate:-90,fontSize:27.7})
  ]
});
const wrap=document.getElementById("wrap");
wrap.append(main);wrap.append(bar);
</script></body></html>
